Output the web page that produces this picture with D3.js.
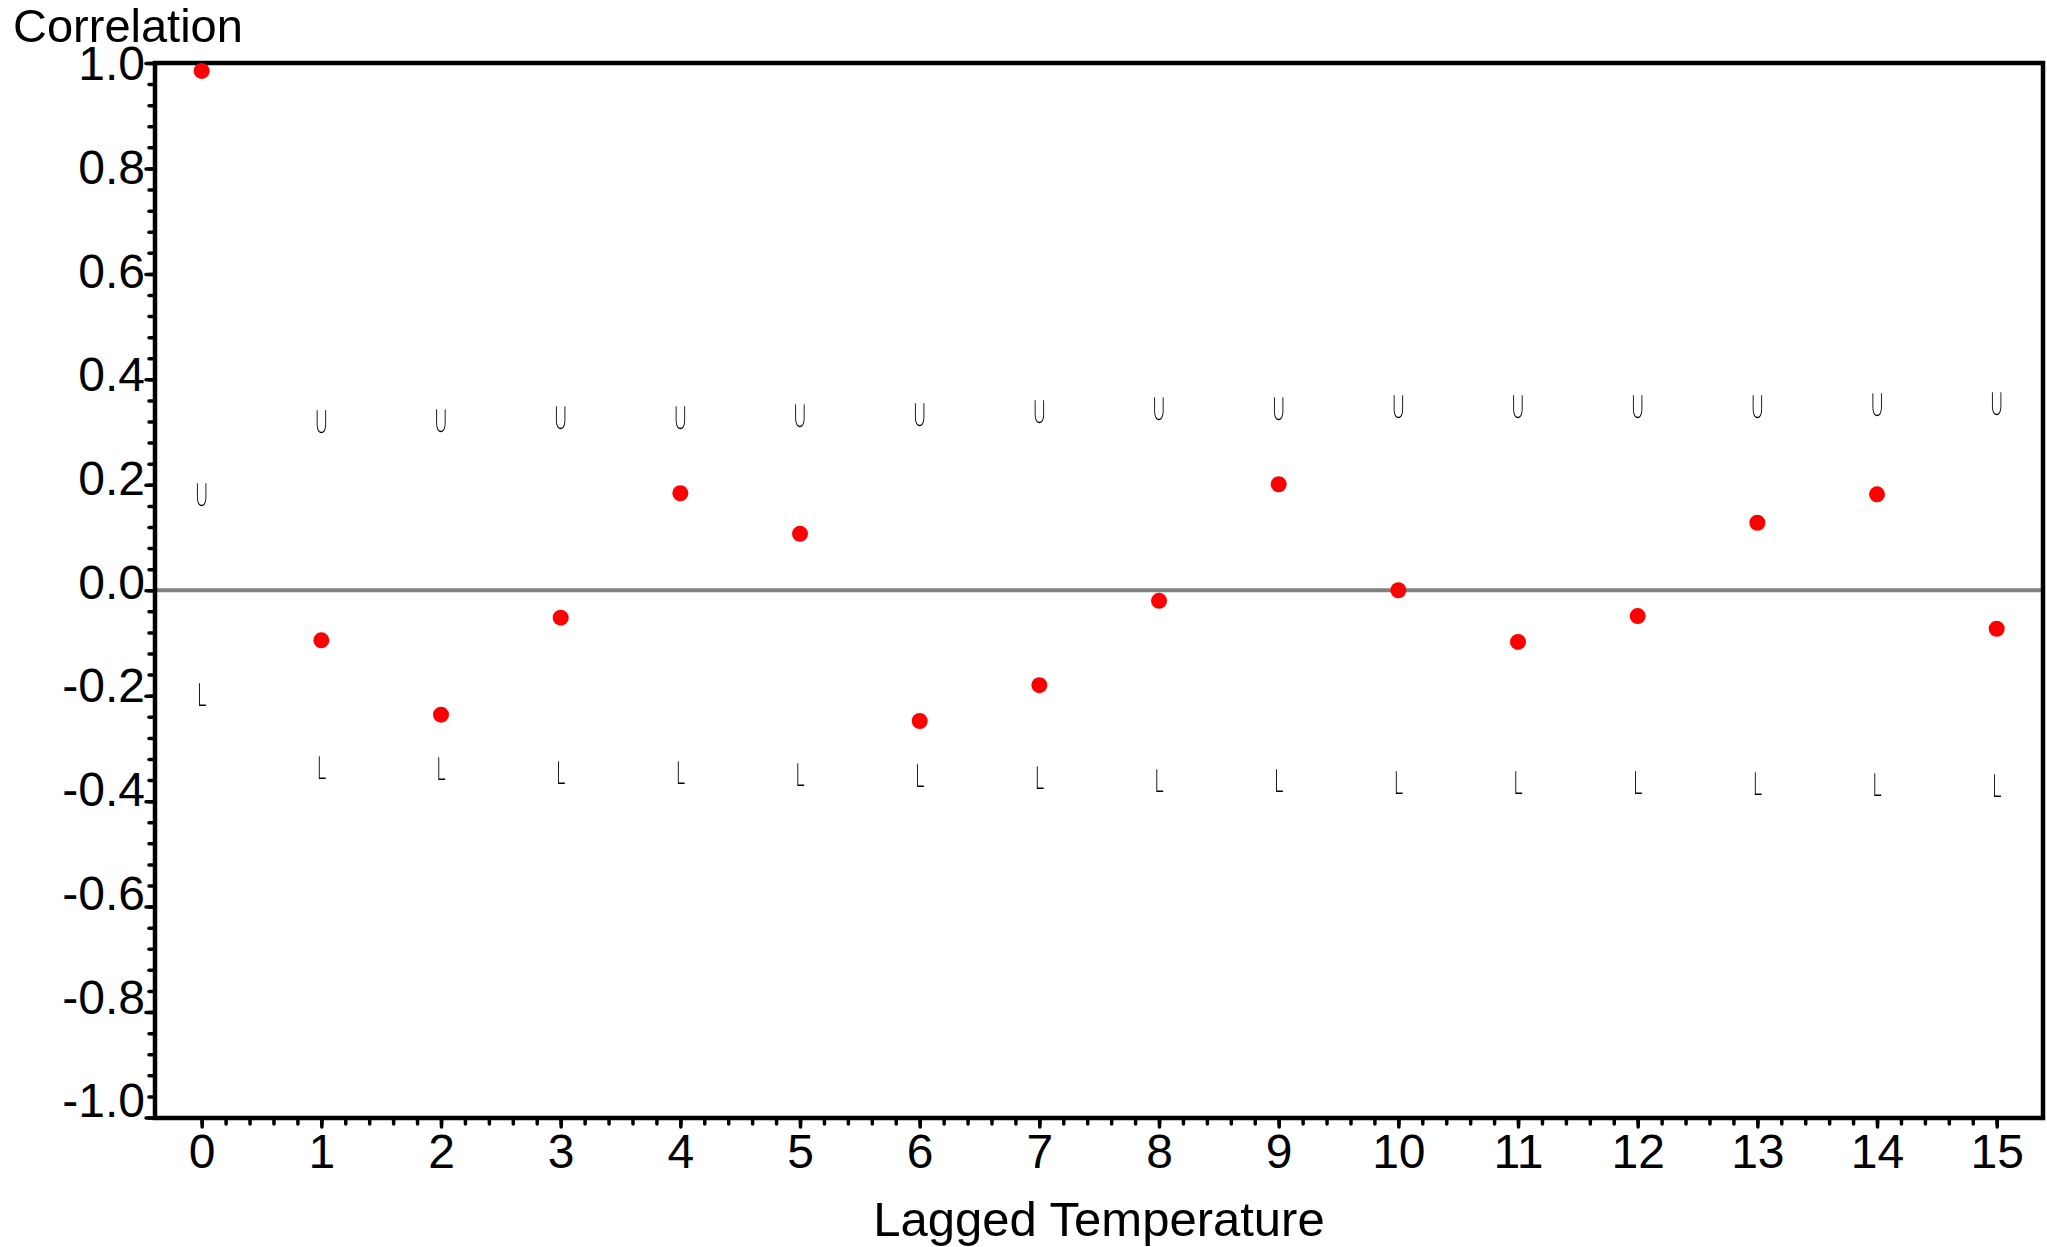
<!DOCTYPE html>
<html>
<head>
<meta charset="utf-8">
<script src="https://cdn.jsdelivr.net/npm/d3@7"></script>
<style>
  html, body { margin: 0; padding: 0; background: #ffffff; }
  svg { display: block; }
  .bounds { -webkit-font-smoothing: antialiased; }
</style>
</head>
<body>
<script>
// ---- data ----
const lags = [0, 1, 2, 3, 4, 5, 6, 7, 8, 9, 10, 11, 12, 13, 14, 15];
const correlation = [0.985, -0.095, -0.236, -0.052, 0.184, 0.107, -0.248, -0.180,
                     -0.020, 0.201, 0.000, -0.098, -0.049, 0.128, 0.182, -0.073];
const upperBound = [0.181, 0.320, 0.322, 0.327, 0.327, 0.332, 0.334, 0.339,
                    0.344, 0.344, 0.349, 0.349, 0.349, 0.349, 0.352, 0.354];
const lowerBound = [-0.198, -0.336, -0.339, -0.346, -0.346, -0.349, -0.351, -0.355,
                    -0.360, -0.360, -0.365, -0.365, -0.365, -0.367, -0.368, -0.370];
const yTickValues = [1.0, 0.8, 0.6, 0.4, 0.2, 0.0, -0.2, -0.4, -0.6, -0.8, -1.0];
const yTickLabels = ["1.0", "0.8", "0.6", "0.4", "0.2", "0.0", "-0.2", "-0.4", "-0.6", "-0.8", "-1.0"];
const xTickLabels = ["0", "1", "2", "3", "4", "5", "6", "7", "8", "9", "10", "11", "12", "13", "14", "15"];
const yTitle = "Correlation";
const xTitle = "Lagged Temperature";

// ---- layout ----
const W = 2047, H = 1247;
const pL = 155, pR = 2043, pT = 63, pB = 1118;

const svg = d3.select("body").append("svg")
  .attr("width", W).attr("height", H);

const x = d3.scaleLinear().domain([-0.39, 15.387]).range([pL, pR]);
const y = d3.scaleLinear().domain([-1, 1]).range([pB - 0.5, pT]);
const yLabelPos = d3.scaleLinear().domain([-1, 1]).range([pB - 18, pT]);

const font = "'Liberation Sans', Arial, Helvetica, sans-serif";

// zero reference line
svg.append("line")
  .attr("x1", pL).attr("x2", pR)
  .attr("y1", y(0)).attr("y2", y(0))
  .attr("stroke", "#808080").attr("stroke-width", 4);

// ---- y axis ticks (minor every 0.04, major every 0.2) ----
const yMinor = d3.range(-25, 26).map(i => i * 0.04);
const yAxisMinor = d3.axisLeft(y).tickValues(yMinor).tickSize(6).tickFormat("");
const gY = svg.append("g").attr("transform", `translate(${pL},0)`).call(yAxisMinor);
gY.select(".domain").remove();
gY.selectAll(".tick line").attr("stroke", "#000").attr("stroke-width", 3.5).attr("stroke-linecap", "round");
const yAxisMajor = d3.axisLeft(y).tickValues(yTickValues).tickSize(9).tickFormat("");
const gY2 = svg.append("g").attr("transform", `translate(${pL},0)`).call(yAxisMajor);
gY2.select(".domain").remove();
gY2.selectAll(".tick line").attr("stroke", "#000").attr("stroke-width", 3.5).attr("stroke-linecap", "round");

// y tick labels
svg.append("g").selectAll("text").data(yTickValues).join("text")
  .attr("x", 145)
  .attr("y", d => yLabelPos(d))
  .attr("dy", "0.36em")
  .attr("text-anchor", "end")
  .attr("font-family", font).attr("font-size", 48)
  .attr("fill", "#000")
  .text((d, i) => yTickLabels[i]);

// ---- x axis ticks (minor every 0.2, major every 1) ----
const xMinor = d3.range(0, 76).map(i => i * 0.2);
const xAxisMinor = d3.axisBottom(x).tickValues(xMinor).tickSize(6).tickFormat("");
const gX = svg.append("g").attr("transform", `translate(0,${pB})`).call(xAxisMinor);
gX.select(".domain").remove();
gX.selectAll(".tick line").attr("stroke", "#000").attr("stroke-width", 3.5).attr("stroke-linecap", "round");
const xAxisMajor = d3.axisBottom(x).tickValues(lags).tickSize(9).tickFormat((d, i) => xTickLabels[i]);
const gX2 = svg.append("g").attr("transform", `translate(0,${pB})`).call(xAxisMajor);
gX2.select(".domain").remove();
gX2.selectAll(".tick line").attr("stroke", "#000").attr("stroke-width", 3.5).attr("stroke-linecap", "round");
gX2.selectAll(".tick text")
  .attr("y", 50).attr("dy", 0)
  .attr("font-family", font).attr("font-size", 48).attr("fill", "#000");

// ---- frame ----
svg.append("rect")
  .attr("x", pL).attr("y", pT)
  .attr("width", pR - pL).attr("height", pB - pT)
  .attr("fill", "none").attr("stroke", "#000").attr("stroke-width", 4.5);

// ---- confidence bound symbols U / L ----
const symFont = "Lato, 'Open Sans', Roboto, sans-serif";
function boundGlyph(values, ch) {
  svg.append("g").attr("class", "bounds").attr("opacity", 0.999)
    .selectAll("text").data(values).join("text")
    .attr("transform", (d, i) => `translate(${x(lags[i])},${y(d) + 11.5}) scale(0.55,1)`)
    .attr("text-anchor", "middle")
    .attr("text-rendering", "geometricPrecision")
    .attr("font-family", symFont).attr("font-weight", 300)
    .attr("font-size", 32).attr("fill", "#000")
    .text(ch);
}
boundGlyph(upperBound, "U");
boundGlyph(lowerBound, "L");

// ---- correlation points ----
svg.append("g").selectAll("circle").data(correlation).join("circle")
  .attr("cx", (d, i) => x(lags[i]))
  .attr("cy", d => y(d))
  .attr("r", 8)
  .attr("fill", "#ff0000");

// ---- axis titles ----
svg.append("text")
  .attr("x", 13).attr("y", 42)
  .attr("font-family", font).attr("font-size", 47).attr("fill", "#000")
  .text(yTitle);
svg.append("text")
  .attr("x", (pL + pR) / 2).attr("y", 1236)
  .attr("text-anchor", "middle")
  .attr("font-family", font).attr("font-size", 49).attr("fill", "#000")
  .text(xTitle);
</script>
</body>
</html>
